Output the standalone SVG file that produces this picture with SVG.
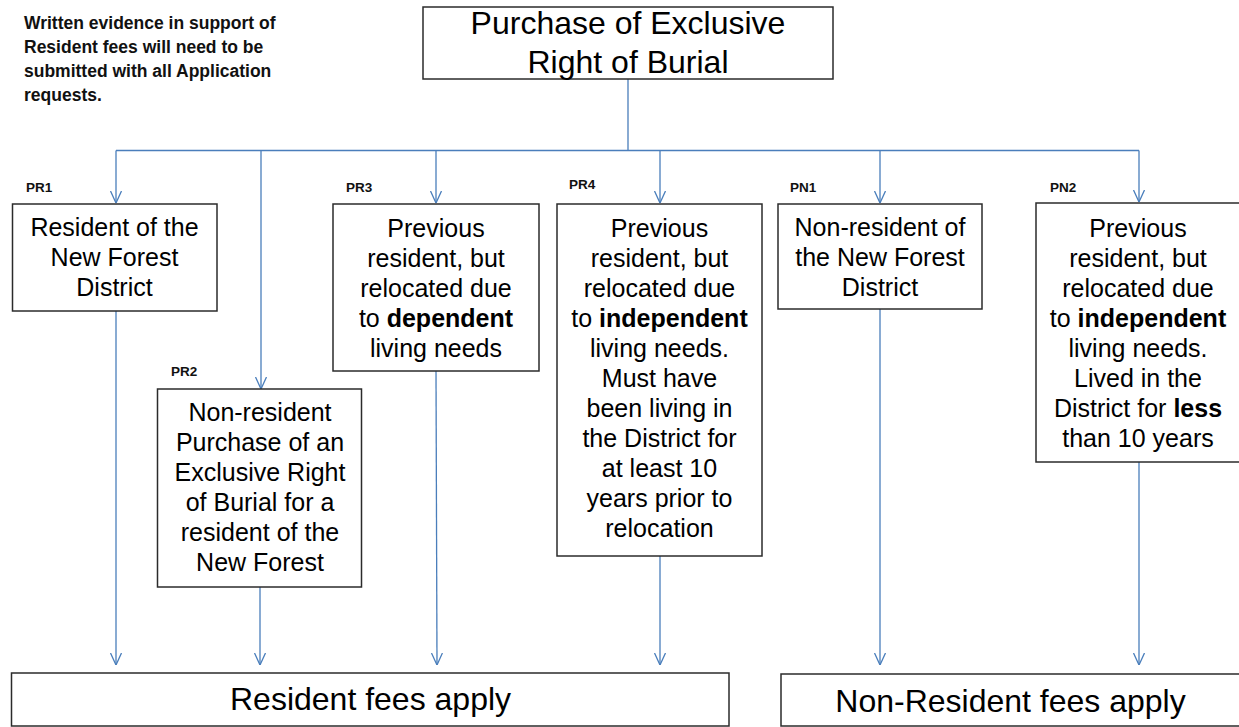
<svg xmlns="http://www.w3.org/2000/svg" width="1239" height="727" viewBox="0 0 1239 727">
<style>
.box{fill:#fff;stroke:#2b2b2b;stroke-width:1.5}
.t{font-family:"Liberation Sans",Arial,sans-serif;font-size:25px;fill:#000;text-anchor:middle}
.big{font-size:32px}
.b{font-weight:bold}
.lbl{font-family:"Liberation Sans",Arial,sans-serif;font-size:13.5px;font-weight:bold;fill:#111}
.note{font-family:"Liberation Sans",Arial,sans-serif;font-size:17.5px;font-weight:bold;fill:#111}
.c{fill:none;stroke:#4a7ebb;stroke-width:1.3}
</style>
<defs>
<marker id="arr" viewBox="0 0 12 12" refX="12" refY="6" markerWidth="12" markerHeight="12" markerUnits="userSpaceOnUse" orient="auto">
<path d="M0,0.5 L12,6 L0,11.5" fill="none" stroke="#4a7ebb" stroke-width="1.3"/>
</marker>
</defs>
<rect width="1239" height="727" fill="#fff"/>

<g id="note">
<text class="note" x="24" y="29">Written evidence in support of</text>
<text class="note" x="24" y="53">Resident fees will need to be</text>
<text class="note" x="24" y="77">submitted with all Application</text>
<text class="note" x="24" y="101">requests.</text>
</g>

<g id="connectors">
<path class="c" d="M628,79 V150.5 M116,150.5 H1139"/>
<path class="c" marker-end="url(#arr)" d="M116,150.5 V203"/>
<path class="c" marker-end="url(#arr)" d="M261,150.5 V389"/>
<path class="c" marker-end="url(#arr)" d="M436,150.5 V203"/>
<path class="c" marker-end="url(#arr)" d="M660,150.5 V203"/>
<path class="c" marker-end="url(#arr)" d="M880,150.5 V203"/>
<path class="c" marker-end="url(#arr)" d="M1139,150.5 V202"/>
<path class="c" marker-end="url(#arr)" d="M116,311 V665"/>
<path class="c" marker-end="url(#arr)" d="M260,587 V665"/>
<path class="c" marker-end="url(#arr)" d="M436,371 L437,665"/>
<path class="c" marker-end="url(#arr)" d="M660,556 V665"/>
<path class="c" marker-end="url(#arr)" d="M880,309 V665"/>
<path class="c" marker-end="url(#arr)" d="M1139,462 V665"/>
</g>

<g id="top">
<rect class="box" x="423" y="7" width="410" height="72"/>
<text class="t big" x="628" y="34">Purchase of Exclusive</text>
<text class="t big" x="628" y="73">Right of Burial</text>
</g>

<g id="PR1">
<text class="lbl" x="26" y="192">PR1</text>
<rect class="box" x="12.5" y="204" width="204.5" height="107"/>
<text class="t" x="114.5" y="236">Resident of the</text>
<text class="t" x="114.5" y="266">New Forest</text>
<text class="t" x="114.5" y="296">District</text>
</g>

<g id="PR2">
<text class="lbl" x="171" y="376">PR2</text>
<rect class="box" x="157.5" y="389" width="204" height="198"/>
<text class="t" x="260" y="421">Non-resident</text>
<text class="t" x="260" y="451">Purchase of an</text>
<text class="t" x="260" y="481">Exclusive Right</text>
<text class="t" x="260" y="511">of Burial for a</text>
<text class="t" x="260" y="541">resident of the</text>
<text class="t" x="260" y="571">New Forest</text>
</g>

<g id="PR3">
<text class="lbl" x="346" y="192">PR3</text>
<rect class="box" x="333" y="204" width="206" height="167"/>
<text class="t" x="436" y="237">Previous</text>
<text class="t" x="436" y="267">resident, but</text>
<text class="t" x="436" y="297">relocated due</text>
<text class="t" x="436" y="327">to <tspan class="b">dependent</tspan></text>
<text class="t" x="436" y="357">living needs</text>
</g>

<g id="PR4">
<text class="lbl" x="569" y="189">PR4</text>
<rect class="box" x="557" y="204" width="205" height="352"/>
<text class="t" x="659.5" y="237">Previous</text>
<text class="t" x="659.5" y="267">resident, but</text>
<text class="t" x="659.5" y="297">relocated due</text>
<text class="t" x="659.5" y="327">to <tspan class="b">independent</tspan></text>
<text class="t" x="659.5" y="357">living needs.</text>
<text class="t" x="659.5" y="387">Must have</text>
<text class="t" x="659.5" y="417">been living in</text>
<text class="t" x="659.5" y="447">the District for</text>
<text class="t" x="659.5" y="477">at least 10</text>
<text class="t" x="659.5" y="507">years prior to</text>
<text class="t" x="659.5" y="537">relocation</text>
</g>

<g id="PN1">
<text class="lbl" x="790" y="192">PN1</text>
<rect class="box" x="778" y="204" width="204" height="105"/>
<text class="t" x="880" y="236">Non-resident of</text>
<text class="t" x="880" y="266">the New Forest</text>
<text class="t" x="880" y="296">District</text>
</g>

<g id="PN2">
<text class="lbl" x="1050" y="192">PN2</text>
<rect class="box" x="1036" y="203" width="205" height="259"/>
<text class="t" x="1138" y="237">Previous</text>
<text class="t" x="1138" y="267">resident, but</text>
<text class="t" x="1138" y="297">relocated due</text>
<text class="t" x="1138" y="327">to <tspan class="b">independent</tspan></text>
<text class="t" x="1138" y="357">living needs.</text>
<text class="t" x="1138" y="387">Lived in the</text>
<text class="t" x="1138" y="417">District for <tspan class="b">less</tspan></text>
<text class="t" x="1138" y="447">than 10 years</text>
</g>

<g id="resident">
<rect class="box" x="11.5" y="673" width="717.5" height="53"/>
<text class="t big" x="370.5" y="710">Resident fees apply</text>
</g>

<g id="nonresident">
<rect class="box" x="781" y="674" width="460" height="52"/>
<text class="t big" x="1010.5" y="712">Non-Resident fees apply</text>
</g>
</svg>
